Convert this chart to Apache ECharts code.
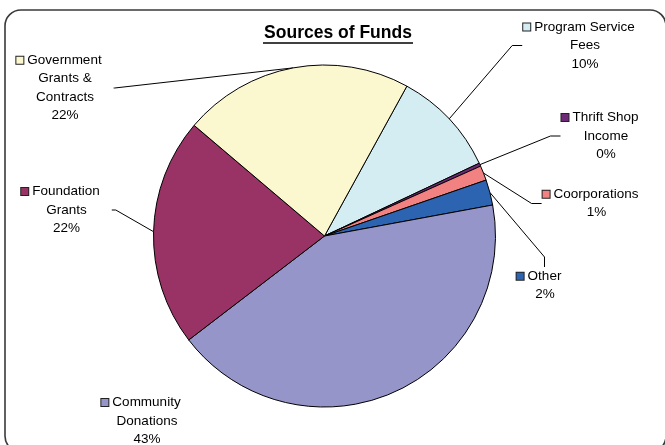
<!DOCTYPE html>
<html>
<head>
<meta charset="utf-8">
<script src="https://cdn.jsdelivr.net/npm/echarts@6/dist/echarts.min.js"></script>
<style>html,body{margin:0;padding:0;background:#fff;}#main{width:665px;height:445px;}</style>
</head>
<body>
<div id="main"></div>
<script>
// ---- data ----
const categories = ['Program Service Fees', 'Thrift Shop Income', 'Coorporations', 'Other', 'Community Donations', 'Foundation Grants', 'Government Grants & Contracts'];
const labelText = [['Program Service', 'Fees'], ['Thrift Shop', 'Income'], ['Coorporations'], ['Other'], ['Community', 'Donations'], ['Foundation', 'Grants'], ['Government', 'Grants &', 'Contracts']];
const values = [10.0, 0.3, 1.4, 2.4, 42.5, 21.6, 21.8];
const titleText = 'Sources of Funds';

// ---- style ----
const colors = ['#D3EDF3', '#6E2A77', '#F28282', '#2C64B1', '#9595CA', '#993366', '#FBF8CF'];
const labelPos = [[585, 45.5], [606, 136], [596.5, 203.5], [545, 285.5], [147, 421], [66.5, 210], [65, 88]];
const showLine = [true, true, true, true, false, true, true];
const lineLen2 = [10, 10, 10, 10, 10, 4, 1];
const FONT = '"Liberation Sans", Arial, sans-serif';

const rich = { g: { width: 4 }, s: { width: 12 } };
colors.forEach((c, i) => {
  rich['b' + i] = { width: 7, height: 7, backgroundColor: c, borderColor: '#222', borderWidth: 1 };
});

const chart = echarts.init(document.getElementById('main'), null, { renderer: 'canvas' });
chart.setOption({
  animation: false,
  backgroundColor: '#fff',
  graphic: [
    { type: 'rect', shape: { x: 5, y: 10, width: 661, height: 442, r: 16 }, style: { fill: 'none', stroke: '#3a3a3a', lineWidth: 1.6 }, z: 0 },
    { type: 'text', x: 338, y: 33, style: { text: titleText, font: 'bold 17.5px ' + FONT, fill: '#000', align: 'center', verticalAlign: 'middle' }, z: 10 },
    { type: 'line', shape: { x1: 263, y1: 43, x2: 413, y2: 43 }, style: { stroke: '#000', lineWidth: 1.6 }, z: 10 }
  ],
  series: [{
    type: 'pie',
    center: [324.5, 236],
    radius: 171,
    startAngle: 61.2,
    clockwise: true,
    avoidLabelOverlap: false,
    emphasis: { disabled: true },
    itemStyle: { borderColor: '#000', borderWidth: 1 },
    label: {
      show: true,
      position: 'outside',
      fontSize: 13.5,
      fontFamily: FONT,
      color: '#000',
      lineHeight: 18.5,
      align: 'center',
      rich: rich,
      formatter: function (p) {
        const lines = labelText[p.dataIndex].slice();
        lines[0] = '{b' + p.dataIndex + '|}{g|}' + lines[0] + '{s|}';
        lines.push(Math.round(p.percent) + '%');
        return lines.join('\n');
      }
    },
    labelLine: { show: true, length: 10, length2: 10, smooth: false, lineStyle: { color: '#000', width: 1 } },
    labelLayout: function (params) {
      const pos = labelPos[params.dataIndex];
      return { x: pos[0], y: pos[1], align: 'center', verticalAlign: 'middle', hideOverlap: false };
    },
    data: categories.map((name, i) => ({
      name: name,
      value: values[i],
      itemStyle: { color: colors[i] },
      labelLine: { show: showLine[i], length2: lineLen2[i] }
    }))
  }]
});
</script>
</body>
</html>
